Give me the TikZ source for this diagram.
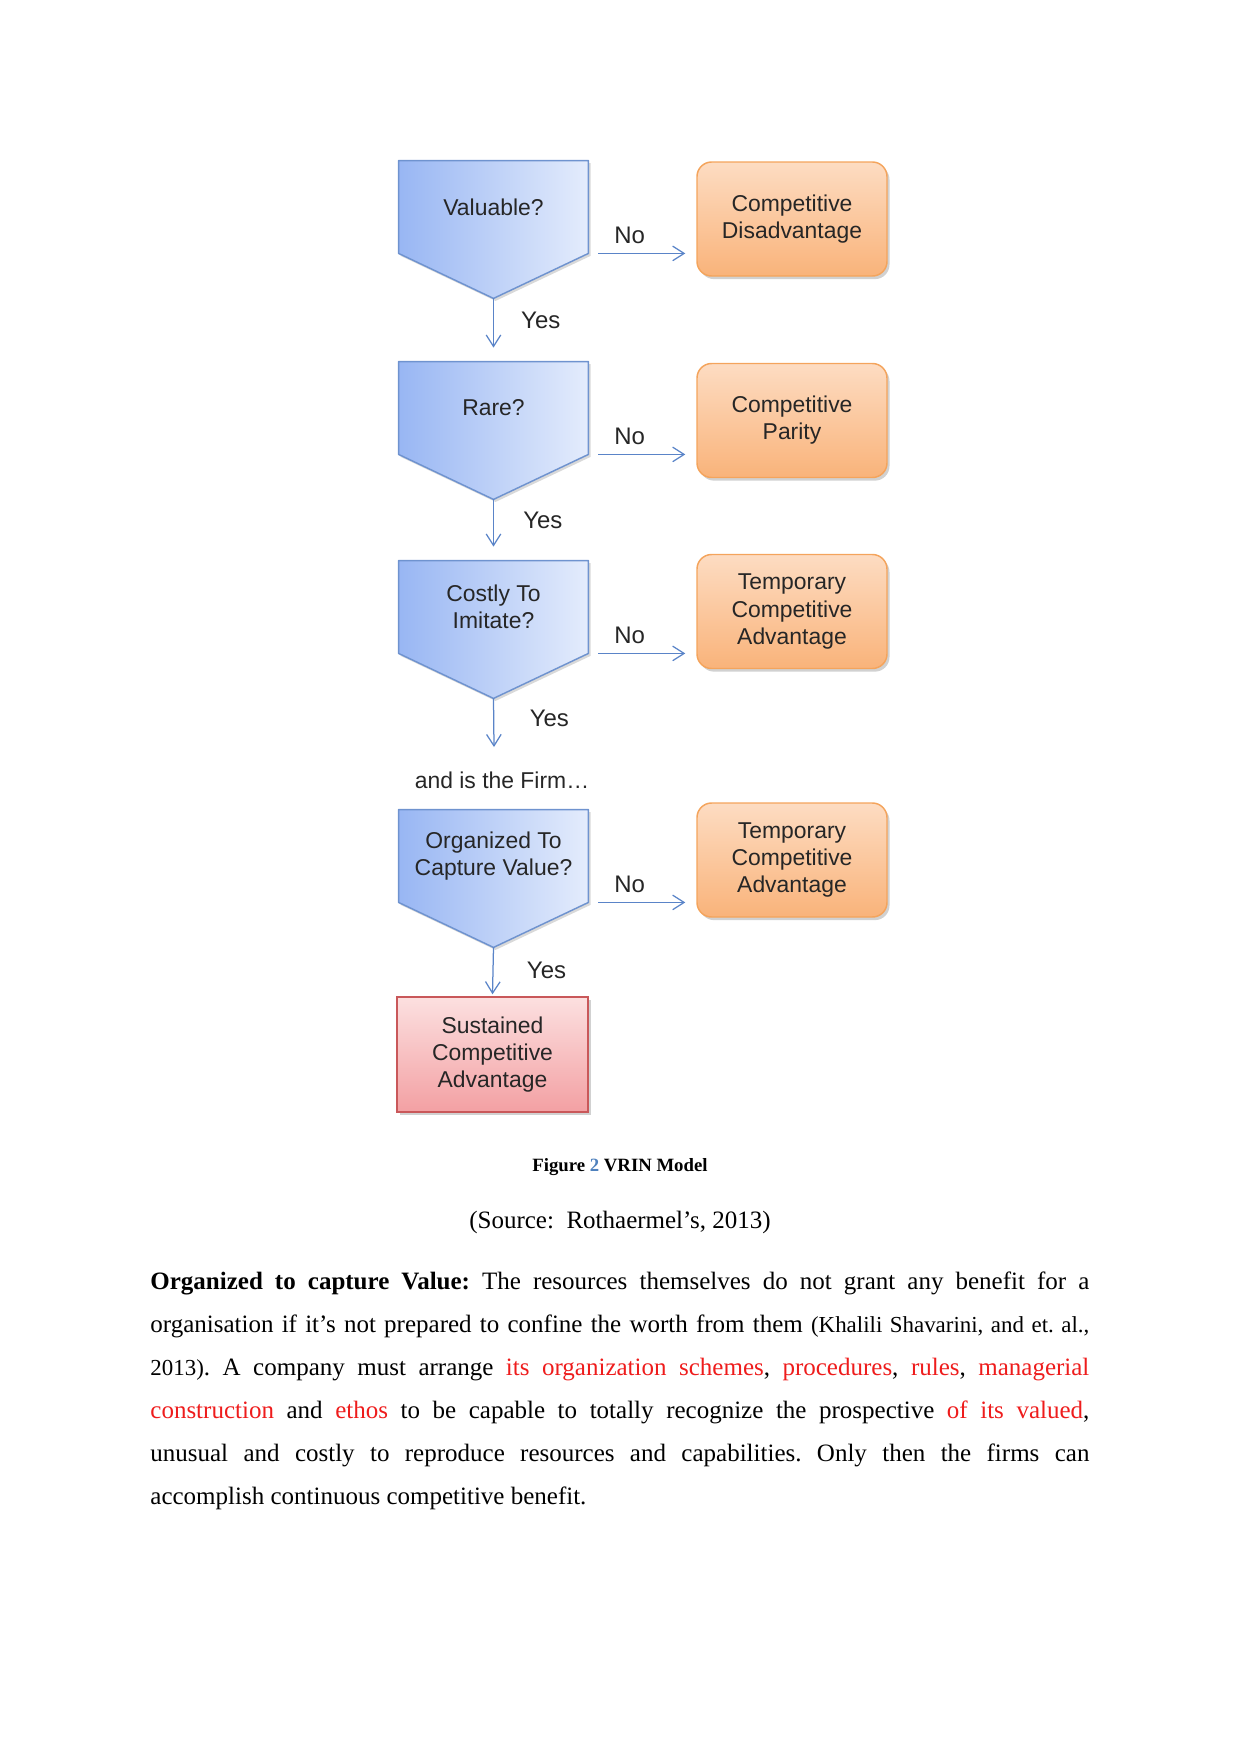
\documentclass[tikz,border=0pt]{standalone}
\usepackage{fontspec}
\setmainfont{Liberation Serif}
\newfontfamily\diagfont{Liberation Sans}
\usetikzlibrary{arrows.meta,calc,backgrounds,shadows}
\definecolor{blueL}{HTML}{98B6F3}
\definecolor{blueR}{HTML}{E4ECFC}
\definecolor{blueB}{HTML}{6F93CF}
\definecolor{orT}{HTML}{FDDCC2}
\definecolor{orB}{HTML}{F9B37A}
\definecolor{orD}{HTML}{F4A45C}
\definecolor{rdT}{HTML}{FCE0E0}
\definecolor{rdB}{HTML}{F3A0A3}
\definecolor{rdD}{HTML}{C9585A}
\definecolor{arrc}{HTML}{5A84C8}
\definecolor{txt}{HTML}{262626}
\definecolor{capblue}{HTML}{4F81BD}
\definecolor{redword}{HTML}{EE1C1C}
\newcommand\redtxt[1]{\textcolor{redword}{#1}}
\newcommand\pentshape[1]{%
  \coordinate (#1tip) at ($(#1.south)+(0,45)$);
  \begin{scope}[on background layer]
    \path[pent] (#1.north west) -- (#1.north east) -- (#1.south east) -- (#1tip) -- (#1.south west) -- cycle;
  \end{scope}}
\begin{document}
\begin{tikzpicture}[x=0.48pt,y=-0.48pt,
  dfont/.style={font=\diagfont\fontsize{11pt}{13pt}\selectfont, text=txt},
  qbox/.style={dfont, minimum width=189*0.48pt, minimum height=92*0.48pt, inner sep=0pt, align=center},
  pent/.style={left color=blueL, right color=blueR, draw=blueB, line width=0.7pt, line join=round,
    drop shadow={shadow xshift=1pt, shadow yshift=-1.2pt, opacity=0.25, fill=black!60}},
  obox/.style={dfont, align=center, minimum width=190*0.48pt, minimum height=114*0.48pt, inner sep=0pt,
    rounded corners=7pt, top color=orT, bottom color=orB, draw=orD, line width=0.7pt,
    drop shadow={shadow xshift=1.2pt, shadow yshift=-1.5pt, opacity=0.3, fill=black!60}},
  rbox/.style={dfont, align=center, minimum width=191*0.48pt, minimum height=115*0.48pt, inner sep=0pt,
    top color=rdT, bottom color=rdB, draw=rdD, line width=0.7pt,
    drop shadow={shadow xshift=1.2pt, shadow yshift=-1.5pt, opacity=0.3, fill=black!60}},
  arr/.style={draw=arrc, line width=0.6pt, -{Straight Barb[length=5.5pt,width=7pt]}},
  lab/.style={font=\diagfont\fontsize{11.5pt}{13pt}\selectfont, text=txt, inner sep=0pt}]
\useasboundingbox (0,0) rectangle (1241,1754);

% decision pentagons
\node[qbox] (v) at (493.5,207) {Valuable?};
\pentshape{v}
\node[qbox] (r) at (493.5,408) {Rare?};
\pentshape{r}
\node[qbox] (c) at (493.5,607) {Costly To\\Imitate?};
\pentshape{c}
\node[qbox] (o) at (493.5,856) {Organized To\\Capture Value?};
\pentshape{o}

% outcomes
\node[obox] (d1) at (792,219) {Competitive\\Disadvantage};
\node[obox] (d2) at (792,420.5) {Competitive\\Parity};
\node[obox] (d3) at (792,611.5) {Temporary\\Competitive\\Advantage};
\node[obox] (d4) at (792,860) {Temporary\\Competitive\\Advantage};
\node[rbox] (s) at (492.5,1054.5) {Sustained\\Competitive\\Advantage};

\node[dfont, inner sep=0pt] (firm) at (502,780) {and is the Firm…};

% No arrows
\draw[arr] ($(v.south east)+(10,0)$) -- node[lab, pos=0.36, above=4.5pt] {No} ($(v.south east -| d1.west)+(-11,0)$);
\draw[arr] ($(r.south east)+(10,0)$) -- node[lab, pos=0.36, above=4.5pt] {No} ($(r.south east -| d2.west)+(-11,0)$);
\draw[arr] ($(c.south east)+(10,0)$) -- node[lab, pos=0.36, above=4.5pt] {No} ($(c.south east -| d3.west)+(-11,0)$);
\draw[arr] ($(o.south east)+(10,0)$) -- node[lab, pos=0.36, above=4.5pt] {No} ($(o.south east -| d4.west)+(-11,0)$);

% Yes arrows
\draw[arr] (vtip) -- node[lab, pos=0.44, right=13pt] {Yes} ($(r.north)+(0,-14)$);
\draw[arr] (rtip) -- node[lab, pos=0.44, right=14pt] {Yes} ($(c.north)+(0,-14)$);
\draw[arr] (ctip) -- node[lab, pos=0.42, right=17pt] {Yes} ($(firm.center)+(-8,-33)$);
\draw[arr] (otip) -- node[lab, pos=0.48, right=16pt] {Yes} ($(s.north)+(0,-2)$);

% caption and text
\node[font=\bfseries\fontsize{9pt}{11pt}\selectfont, anchor=base, inner sep=0pt] (cap) at (620,1171) {Figure \textcolor{capblue}{2} VRIN Model};
\node[font=\fontsize{12pt}{14pt}\selectfont, anchor=base, inner sep=0pt] (src) at (620,1228) {(Source:\ \ Rothaermel’s, 2013)};
\node[anchor=north west, inner sep=0pt, text width=939*0.48pt, align=justify,
      font=\fontsize{12pt}{20.7pt}\selectfont] (body) at (150,1271)
{\frenchspacing\tolerance=10000\textbf{Organized to capture Value:} The resources themselves do not grant any benefit for a\linebreak
organisation if it’s not prepared to confine the worth from them {\fontsize{11pt}{20.7pt}\selectfont (Khalili Shavarini, and et. al.,\linebreak
2013)}. A company must arrange \redtxt{its organization schemes}, \redtxt{procedures}, \redtxt{rules}, \redtxt{managerial}\linebreak
\redtxt{construction} and \redtxt{ethos} to be capable to totally recognize the prospective \redtxt{of its valued},\linebreak
unusual and costly to reproduce resources and capabilities. Only then the firms can\linebreak
accomplish continuous competitive benefit.};
\end{tikzpicture}
\end{document}
